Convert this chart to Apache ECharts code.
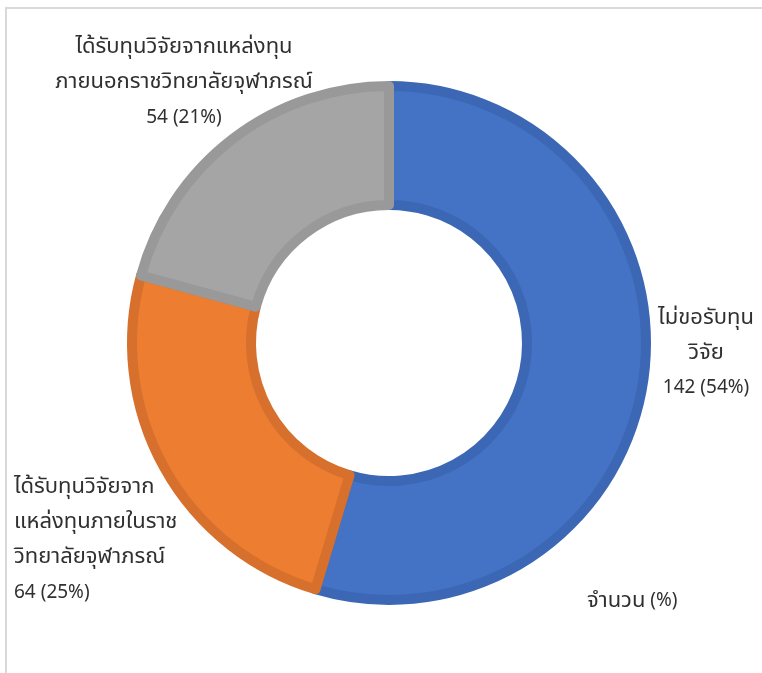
<!DOCTYPE html>
<html>
<head>
<meta charset="utf-8">
<script src="https://cdn.jsdelivr.net/npm/echarts@6/dist/echarts.min.js"></script>
<style>
html,body{margin:0;padding:0;background:#fff;}
#chart{width:762px;height:673px;}
</style>
</head>
<body>
<div id="chart"></div>
<script>
// ---- data ----
const categories = [
  'ไม่ขอรับทุนวิจัย',
  'ได้รับทุนวิจัยจากแหล่งทุนภายในราชวิทยาลัยจุฬาภรณ์',
  'ได้รับทุนวิจัยจากแหล่งทุนภายนอกราชวิทยาลัยจุฬาภรณ์'
];
const labelLines = [
  ['ไม่ขอรับทุน', 'วิจัย'],
  ['ได้รับทุนวิจัยจาก', 'แหล่งทุนภายในราช', 'วิทยาลัยจุฬาภรณ์'],
  ['ได้รับทุนวิจัยจากแหล่งทุน', 'ภายนอกราชวิทยาลัยจุฬาภรณ์']
];
const values = [142, 64, 54];
const percents = [54, 25, 21];
const seriesName = 'จำนวน (%)';

// ---- styles ----
const fillColors = ['#4472C4', '#ED7D31', '#A5A5A5'];
const borderColors = ['#3C67B5', '#D6702C', '#999999'];
const richKeys = ['b', 'l', 'g'];
const labelDy = [-28, 66, -43];
const FONT = 'Tahoma, "Noto Sans Thai", "Noto Sans", "DejaVu Sans", sans-serif';
const TXT = '#303030';

const chart = echarts.init(document.getElementById('chart'), null, {renderer: 'canvas'});

const data = categories.map((c, i) => ({
  name: c,
  value: values[i],
  itemStyle: {color: fillColors[i], borderColor: borderColors[i]}
}));

const numText = {fontSize: 19, lineHeight: 35, color: TXT, fontFamily: FONT};
const thaiText = {fontSize: 22, lineHeight: 35, color: TXT, fontFamily: FONT};

chart.setOption({
  animation: false,
  backgroundColor: '#ffffff',
  title: {
    text: '{t|จำนวน} {n|(%)}',
    left: 582, top: 580,
    textStyle: {
      fontSize: 19, fontWeight: 'normal', color: TXT, fontFamily: FONT,
      rich: {
        t: {fontSize: 22, color: TXT, fontFamily: FONT, lineHeight: 35},
        n: {fontSize: 19, color: TXT, fontFamily: FONT, lineHeight: 35}
      }
    }
  },
  graphic: [{
    type: 'rect', silent: true,
    shape: {x: 6, y: 8, width: 900, height: 900},
    style: {fill: 'none', stroke: '#d9d9d9', lineWidth: 2}
  }],
  series: [{
    name: seriesName,
    type: 'pie',
    left: 6, top: 0, right: 0, bottom: 0,
    center: [383, 343],
    radius: [138, 257],
    startAngle: 90,
    clockwise: true,
    avoidLabelOverlap: false,
    itemStyle: {borderWidth: 10},
    label: {
      show: true,
      position: 'outside',
      alignTo: 'edge',
      edgeDistance: 8,
      ...numText,
      formatter: function (p) {
        const i = p.dataIndex;
        const k = richKeys[i];
        const lines = labelLines[i].map(s => '{' + k + 't|' + s + '}');
        lines.push('{' + k + 'n|' + values[i] + ' (' + percents[i] + '%)}');
        return lines.join('\n');
      },
      rich: {
        bt: Object.assign({width: 96, align: 'center'}, thaiText),
        bn: Object.assign({width: 96, align: 'center'}, numText),
        lt: Object.assign({align: 'left'}, thaiText),
        ln: Object.assign({align: 'left'}, numText),
        gt: Object.assign({width: 340, align: 'center'}, thaiText),
        gn: Object.assign({width: 340, align: 'center'}, numText)
      }
    },
    labelLine: {show: false, length: 15, length2: 15},
    labelLayout: function (params) {
      return {dy: labelDy[params.dataIndex]};
    },
    emphasis: {disabled: true},
    data: data
  }]
});
</script>
</body>
</html>
